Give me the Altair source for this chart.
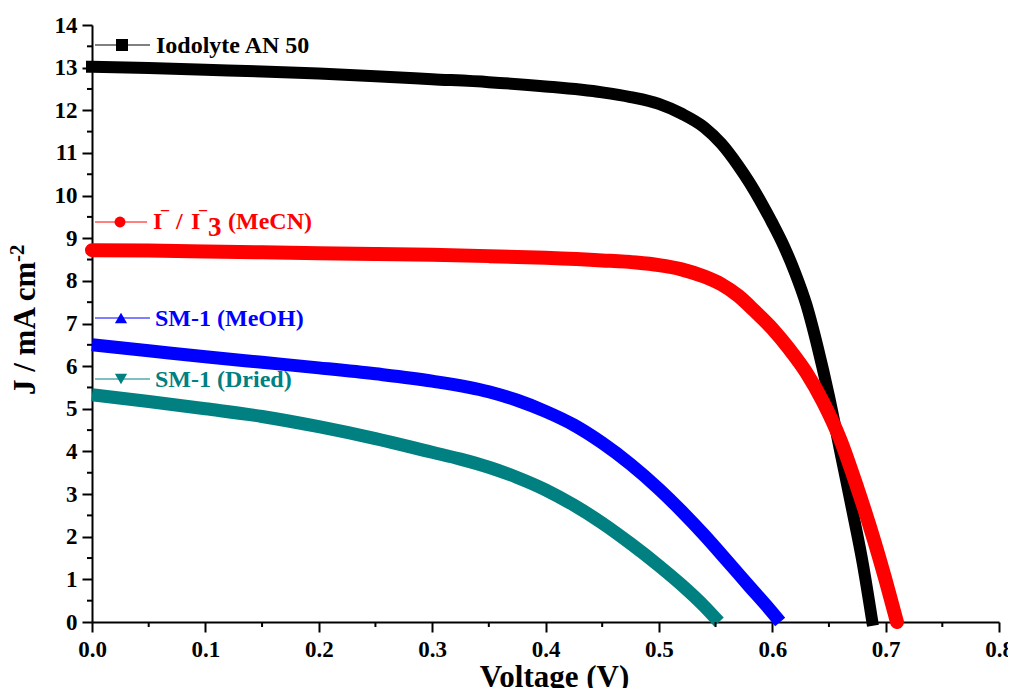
import altair as alt
import pandas as pd

# ---------------- data ----------------
V_black = [0, 0.05, 0.1, 0.15, 0.2, 0.25, 0.3, 0.35, 0.4, 0.45, 0.475, 0.5, 0.52,
           0.54, 0.555, 0.57, 0.58, 0.59, 0.6, 0.61, 0.62, 0.63, 0.64, 0.65, 0.66,
           0.67, 0.68, 0.688]
J_black = [13.02, 12.99, 12.95, 12.91, 12.86, 12.80, 12.73, 12.66, 12.56, 12.42,
           12.31, 12.15, 11.92, 11.6, 11.22, 10.7, 10.3, 9.85, 9.36, 8.83, 8.2,
           7.45, 6.45, 5.3, 4.0, 2.7, 1.35, 0.05]

V_red = [0, 0.05, 0.1, 0.15, 0.2, 0.25, 0.3, 0.35, 0.4, 0.45, 0.48, 0.5, 0.52, 0.54,
         0.555, 0.57, 0.585, 0.6, 0.615, 0.63, 0.645, 0.66, 0.675, 0.69, 0.7, 0.71]
J_red = [8.72, 8.71, 8.69, 8.67, 8.65, 8.63, 8.61, 8.58, 8.54, 8.48, 8.43, 8.37,
         8.27, 8.1, 7.92, 7.65, 7.28, 6.88, 6.4, 5.85, 5.15, 4.28, 3.15, 1.9, 0.98, 0.0]

V_blue = [0, 0.05, 0.1, 0.15, 0.2, 0.25, 0.3, 0.35, 0.375, 0.4, 0.425, 0.45, 0.475,
          0.5, 0.52, 0.54, 0.56, 0.58, 0.595, 0.607]
J_blue = [6.5, 6.36, 6.22, 6.09, 5.96, 5.82, 5.65, 5.4, 5.2, 4.94, 4.62, 4.2, 3.7,
          3.12, 2.6, 2.04, 1.44, 0.83, 0.38, 0.0]

V_teal = [0, 0.05, 0.1, 0.15, 0.2, 0.25, 0.3, 0.325, 0.35, 0.375, 0.4, 0.425, 0.45,
          0.475, 0.5, 0.52, 0.54, 0.553]
J_teal = [5.33, 5.17, 5.0, 4.82, 4.58, 4.3, 3.98, 3.82, 3.63, 3.39, 3.1, 2.74, 2.32,
          1.84, 1.32, 0.87, 0.37, 0.0]

x_major = [0.0, 0.1, 0.2, 0.3, 0.4, 0.5, 0.6, 0.7, 0.8]
x_minor = [0.05, 0.15, 0.25, 0.35, 0.45, 0.55, 0.65, 0.75]
y_major = list(range(0, 15))
y_minor = [i + 0.5 for i in range(0, 14)]

FONT = "Liberation Serif"
W, H = 907, 597

x_scale = alt.Scale(domain=[0, 0.8], nice=False, zero=False)
y_scale = alt.Scale(domain=[0, 14], nice=False, zero=False)

series = [
    ("Iodolyte AN 50", V_black, J_black, "#000000", 12, "square"),
    ("I/I3 (MeCN)", V_red, J_red, "#ff0000", 14, "round"),
    ("SM-1 (MeOH)", V_blue, J_blue, "#0000ff", 13, "butt"),
    ("SM-1 (Dried)", V_teal, J_teal, "#008080", 13, "butt"),
]

x_axis = alt.Axis(values=x_major, format=".1f", title="Voltage (V)",
                  titleFont=FONT, titleFontSize=31, titleFontWeight="bold",
                  titleColor="black", titleX=462, titleY=64,
                  titleBaseline="alphabetic", titleAlign="center",
                  labelPadding=6, labelFlush=False)
y_axis = alt.Axis(values=y_major, format="d", title=None, labelPadding=5,
                  labelFlush=False)

layers = []

# axis carrier (major ticks, labels, x title)
axis_df = pd.DataFrame({"V": [0.0, 0.8], "J": [0.0, 14.0]})
layers.append(alt.Chart(axis_df).mark_point(opacity=0).encode(
    x=alt.X("V:Q", scale=x_scale, axis=x_axis),
    y=alt.Y("J:Q", scale=y_scale, axis=y_axis),
))

# curves
for name, vs, js, col, sw, cap in series:
    df = pd.DataFrame({"V": vs, "J": js})
    layers.append(
        alt.Chart(df).mark_line(color=col, strokeWidth=sw, strokeCap=cap,
                                interpolate="monotone", clip=False).encode(
            x=alt.X("V:Q", scale=x_scale, axis=x_axis),
            y=alt.Y("J:Q", scale=y_scale, axis=y_axis),
        )
    )

# minor ticks
layers.append(
    alt.Chart(pd.DataFrame({"V": x_minor})).mark_rule(color="black", strokeWidth=2).encode(
        x=alt.X("V:Q", scale=x_scale, axis=x_axis),
        y=alt.value(H), y2=alt.value(H + 5))
)
layers.append(
    alt.Chart(pd.DataFrame({"J": y_minor})).mark_rule(color="black", strokeWidth=2).encode(
        y=alt.Y("J:Q", scale=y_scale, axis=y_axis),
        x=alt.value(0), x2=alt.value(-5))
)

# ---------------- manual legend ----------------
one = pd.DataFrame({"k": [0]})
legend_items = [
    # (line y, x1, x2, marker x, shape, size, color)
    (20, 3, 58, 30, "square", 144, "#000000"),
    (197, 3, 55, 28, "circle", 120, "#ff0000"),
    (293, 3, 58, 29, "triangle-up", 150, "#0000ff"),
    (354, 3, 58, 29, "triangle-down", 150, "#008080"),
]
for ly, x1, x2, mx, shape, size, col in legend_items:
    layers.append(alt.Chart(one).mark_rule(color=col, strokeWidth=1).encode(
        x=alt.value(x1), x2=alt.value(x2), y=alt.value(ly)))
    layers.append(alt.Chart(one).mark_point(shape=shape, size=size, filled=True,
                                            color=col, opacity=1).encode(
        x=alt.value(mx), y=alt.value(ly)))


def txt(text, x, y, col, size=24, angle=0):
    return alt.Chart(one).mark_text(text=text, font=FONT, fontSize=size,
                                    fontWeight="bold", color=col, align="left",
                                    baseline="alphabetic", angle=angle).encode(
        x=alt.value(x), y=alt.value(y))


RED = "#ff0000"
layers.append(txt("Iodolyte AN 50", 64, 28, "#000000"))
layers.append(txt("I", 61, 204, RED))
layers.append(txt("\u2013", 69, 190, RED, size=16))
layers.append(txt("/", 84, 204, RED))
layers.append(txt("I", 99, 204, RED))
layers.append(txt("\u2013", 107, 190, RED, size=16))
layers.append(txt("3", 116, 211, RED, size=27))
layers.append(txt("(MeCN)", 136, 204, RED))
layers.append(txt("SM-1 (MeOH)", 63, 301, "#0000ff"))
layers.append(txt("SM-1 (Dried)", 63, 362, "#008080"))

# y axis title with superscript
layers.append(txt("J / mA cm", -57, 370, "#000000", size=31, angle=270))
layers.append(txt("-2", -68, 237, "#000000", size=21, angle=270))

chart = alt.layer(*layers).properties(
    width=W, height=H,
    autosize=alt.AutoSizeParams(type="none"),
    padding={"left": 84, "top": 17, "right": 9, "bottom": 66},
).configure_view(stroke=None).configure_axis(
    domainColor="black", domainWidth=2, tickColor="black", tickWidth=2, tickSize=10,
    labelFont=FONT, labelFontSize=23, labelFontWeight="bold", labelColor="black",
    grid=False,
)

chart.save("out.html", embed_options={"renderer": "svg", "actions": False})
